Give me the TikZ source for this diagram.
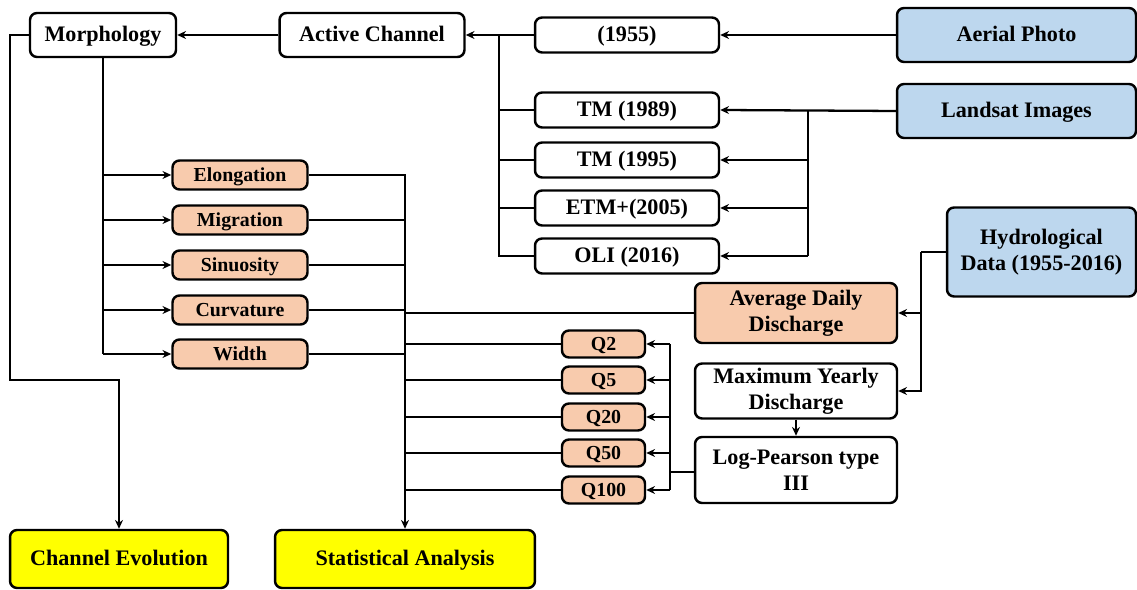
\documentclass[tikz,border=0pt]{standalone}
\usepackage{fontspec}
\setmainfont{Liberation Serif}
\usetikzlibrary{positioning, calc, arrows.meta}
\definecolor{boxblue}{RGB}{189,215,238}
\definecolor{boxorange}{RGB}{248,203,173}
\definecolor{boxyellow}{RGB}{255,255,0}

\begin{document}
\begin{tikzpicture}[
        x=0.02cm, y=-0.02cm,
        base/.style={rectangle, draw=black, line width=1.4pt, rounded corners=4pt, align=center, inner sep=1pt, font=\fontsize{12.6}{14.7}\selectfont\bfseries},
        oneline/.style={text height=0.92em, text depth=0.16em},
        plain/.style={base, fill=white},
        source/.style={base, fill=boxblue},
        param/.style={base, oneline, fill=boxorange, font=\fontsize{11.3}{13}\selectfont\bfseries},
        result/.style={base, oneline, fill=boxyellow},
        arrow/.style={-{Stealth[length=5pt,width=4.5pt]}, line width=1.3pt},
        link/.style={line width=1.3pt}
    ]
        \useasboundingbox (0,0) rectangle (1137,590);

        % Sources
        \node[source, oneline, minimum width=4.78cm, minimum height=1.08cm] (PHOTO) at (1016.5,35) {Aerial Photo};
        \node[source, oneline, minimum width=4.78cm, minimum height=1.08cm] (LANDSAT) at (1016.5,111) {Landsat Images};
        \node[source, minimum width=3.78cm, minimum height=1.78cm] (HYDRO) at (1041.5,252) {Hydrological\\Data (1955-2016)};

        % Images
        \node[plain, oneline, minimum width=3.68cm, minimum height=0.70cm] (Y1955) at (627,35) {(1955)};
        \node[plain, oneline, minimum width=3.68cm, minimum height=0.70cm] (TM89) at (627,110) {TM (1989)};
        \node[plain, oneline, minimum width=3.68cm, minimum height=0.70cm] (TM95) at (627,160) {TM (1995)};
        \node[plain, oneline, minimum width=3.68cm, minimum height=0.70cm] (ETM05) at (627,208) {ETM+(2005)};
        \node[plain, oneline, minimum width=3.68cm, minimum height=0.70cm] (OLI16) at (627,256) {OLI (2016)};

        % Channel
        \node[plain, oneline, minimum width=3.70cm, minimum height=0.88cm] (ACTIVE) at (372,35) {Active Channel};
        \node[plain, oneline, minimum width=2.92cm, minimum height=0.88cm] (MORPH) at (103,35) {Morphology};

        % Morphology parameters
        \node[param, minimum width=2.70cm, minimum height=0.58cm] (ELONG) at (240,175) {Elongation};
        \node[param, minimum width=2.70cm, minimum height=0.58cm] (MIGR) at (240,220) {Migration};
        \node[param, minimum width=2.70cm, minimum height=0.58cm] (SINU) at (240,265) {Sinuosity};
        \node[param, minimum width=2.70cm, minimum height=0.58cm] (CURV) at (240,310) {Curvature};
        \node[param, minimum width=2.70cm, minimum height=0.58cm] (WIDTH) at (240,354) {Width};

        % Discharge
        \node[base, fill=boxorange, minimum width=4.04cm, minimum height=1.2cm] (AVG) at (796,313) {Average Daily\\Discharge};
        \node[plain, minimum width=4.04cm, minimum height=1.1cm] (MAXQ) at (796,391) {Maximum Yearly\\Discharge};
        \node[plain, minimum width=4.04cm, minimum height=1.32cm] (LP3) at (796,470) {Log-Pearson type\\III};

        \node[param, minimum width=1.66cm, minimum height=0.54cm] (Q2) at (603.5,344) {Q2};
        \node[param, minimum width=1.66cm, minimum height=0.54cm] (Q5) at (603.5,380) {Q5};
        \node[param, minimum width=1.66cm, minimum height=0.54cm] (Q20) at (603.5,417) {Q20};
        \node[param, minimum width=1.66cm, minimum height=0.54cm] (Q50) at (603.5,453) {Q50};
        \node[param, minimum width=1.66cm, minimum height=0.54cm] (Q100) at (603.5,490) {Q100};

        % Results
        \node[result, minimum width=4.36cm, minimum height=1.16cm] (EVOL) at (119,559) {Channel Evolution};
        \node[result, minimum width=5.2cm, minimum height=1.16cm] (STATS) at (405,559) {Statistical Analysis};

        % Bus points
        \coordinate (busA) at (499,35);
        \coordinate (busL) at (808,111);
        \coordinate (busH) at (921,252);
        \coordinate (busQ) at (670,472);
        \coordinate (busS) at (405,175);
        \coordinate (turnE) at (10,380);

        % Images to active channel
        \draw[arrow] (PHOTO.west) -- (Y1955.east);
        \draw[arrow] (Y1955.west) -- (ACTIVE.east);
        \draw[link] (busA) |- (OLI16.west);
        \draw[link] (busA |- TM89.west) -- (TM89.west);
        \draw[link] (busA |- TM95.west) -- (TM95.west);
        \draw[link] (busA |- ETM05.west) -- (ETM05.west);

        % Landsat to images
        \draw[arrow] (LANDSAT.west) -- (TM89.east);
        \draw[link] (busL) -- (busL |- OLI16.east);
        \draw[arrow] (busL |- TM95.east) -- (TM95.east);
        \draw[arrow] (busL |- ETM05.east) -- (ETM05.east);
        \draw[arrow] (busL |- OLI16.east) -- (OLI16.east);

        % Morphology
        \draw[arrow] (ACTIVE.west) -- (MORPH.east);
        \draw[link, line width=1.7pt] (MORPH.south) -- (MORPH.south |- WIDTH.west);
        \draw[arrow] (MORPH.south |- ELONG.west) -- (ELONG.west);
        \draw[arrow] (MORPH.south |- MIGR.west) -- (MIGR.west);
        \draw[arrow] (MORPH.south |- SINU.west) -- (SINU.west);
        \draw[arrow] (MORPH.south |- CURV.west) -- (CURV.west);
        \draw[arrow] (MORPH.south |- WIDTH.west) -- (WIDTH.west);
        \draw[arrow] (MORPH.west) -| (turnE) -| (EVOL.north);

        % Hydrological data
        \draw[link] (HYDRO.west) -- (busH);
        \draw[arrow] (busH) |- (MAXQ.east);
        \draw[arrow] (busH |- AVG.east) -- (AVG.east);
        \draw[arrow] (MAXQ.south) -- (LP3.north);
        \draw[link] (LP3.west |- busQ) -- (busQ);
        \draw[link] (busQ |- Q2.east) -- (busQ |- Q100.east);
        \draw[arrow] (busQ |- Q2.east) -- (Q2.east);
        \draw[arrow] (busQ |- Q5.east) -- (Q5.east);
        \draw[arrow] (busQ |- Q20.east) -- (Q20.east);
        \draw[arrow] (busQ |- Q50.east) -- (Q50.east);
        \draw[arrow] (busQ |- Q100.east) -- (Q100.east);

        % Statistical analysis
        \draw[arrow] (ELONG.east) -| (STATS.north);
        \draw[link] (MIGR.east) -- (busS |- MIGR.east);
        \draw[link] (SINU.east) -- (busS |- SINU.east);
        \draw[link] (CURV.east) -- (busS |- CURV.east);
        \draw[link] (WIDTH.east) -- (busS |- WIDTH.east);
        \draw[link] (AVG.west) -- (busS |- AVG.west);
        \draw[link] (Q2.west) -- (busS |- Q2.west);
        \draw[link] (Q5.west) -- (busS |- Q5.west);
        \draw[link] (Q20.west) -- (busS |- Q20.west);
        \draw[link] (Q50.west) -- (busS |- Q50.west);
        \draw[link] (Q100.west) -- (busS |- Q100.west);
    \end{tikzpicture}
\end{document}
